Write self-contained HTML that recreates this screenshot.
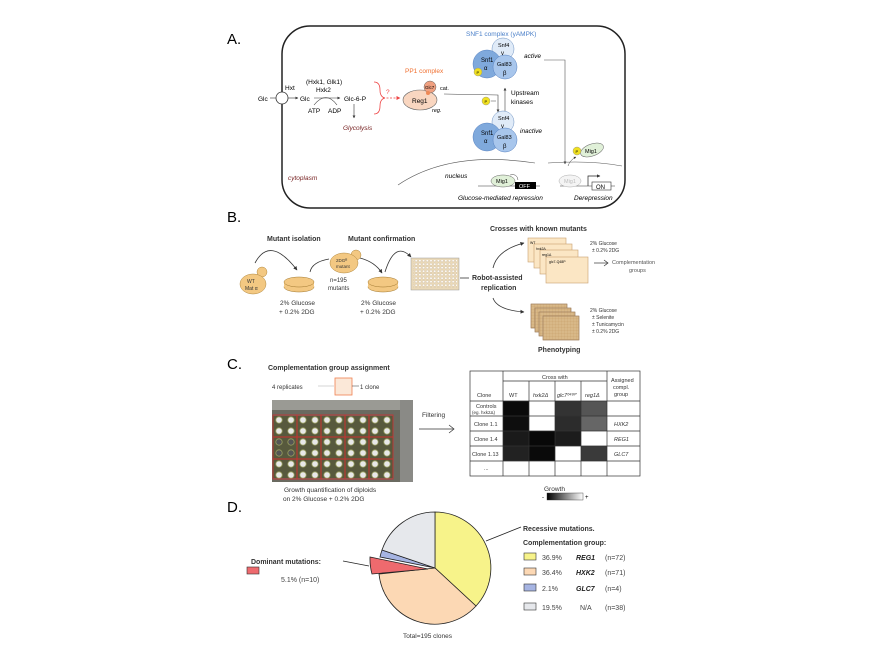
<!DOCTYPE html>
<html><head><meta charset="utf-8"><style>
html,body{margin:0;padding:0;background:#fff}
svg{display:block}
text{font-family:"Liberation Sans",Arial,sans-serif}
</style></head><body>
<svg width="890" height="664" viewBox="0 0 890 664" xmlns="http://www.w3.org/2000/svg">
<defs>
<marker id="ah" viewBox="0 0 10 10" refX="9" refY="5" markerWidth="5" markerHeight="5" orient="auto"><path d="M0,0L10,5L0,10z" fill="#333"/></marker>
<marker id="ahr" viewBox="0 0 10 10" refX="9" refY="5" markerWidth="5" markerHeight="5" orient="auto"><path d="M0,0L10,5L0,10z" fill="#e44"/></marker>
<linearGradient id="gr" x1="0" x2="1"><stop offset="0" stop-color="#000"/><stop offset="1" stop-color="#fff"/></linearGradient>
</defs>

<!-- PANEL A -->
<text x="227" y="44" font-size="15">A.</text>
<rect x="282" y="26" width="343" height="182" rx="28" fill="none" stroke="#222" stroke-width="1.5"/>
<text x="258" y="101" font-size="6.5">Glc</text>
<line x1="270" y1="98" x2="276" y2="98" stroke="#333" stroke-width=".6"/>
<circle cx="282" cy="98" r="6" fill="#fff" stroke="#333" stroke-width=".8"/>
<text x="285" y="90" font-size="6.5">Hxt</text>
<line x1="288" y1="98" x2="298" y2="98" stroke="#333" stroke-width=".6" marker-end="url(#ah)"/>
<text x="300" y="101" font-size="6.5">Glc</text>
<text x="306" y="84" font-size="6.5">(Hxk1, Glk1)</text>
<text x="316" y="92" font-size="6.5">Hxk2</text>
<line x1="314" y1="98" x2="340" y2="98" stroke="#333" stroke-width=".6" marker-end="url(#ah)"/>
<path d="M314,105 Q326,90 337,105" fill="none" stroke="#333" stroke-width=".6"/>
<text x="308" y="113" font-size="6.5">ATP</text>
<text x="328" y="113" font-size="6.5">ADP</text>
<text x="344" y="101" font-size="6.5">Glc-6-P</text>
<line x1="354" y1="104" x2="354" y2="118" stroke="#333" stroke-width=".6" marker-end="url(#ah)"/>
<text x="343" y="130" font-size="6.5" font-style="italic" fill="#722">Glycolysis</text>
<path d="M374,82 Q380,82 380,90 Q380,97 385,98 Q380,99 380,106 Q380,114 374,114" fill="none" stroke="#e44" stroke-width=".8"/>
<text x="386" y="94" font-size="6.5" fill="#e44">?</text>
<line x1="383" y1="98" x2="400" y2="98" stroke="#e44" stroke-width=".8" stroke-dasharray="2,1.5" marker-end="url(#ahr)"/>
<text x="405" y="73" font-size="6.5" fill="#f07030">PP1 complex</text>
<ellipse cx="420" cy="100" rx="17" ry="10" fill="#f9d6c0" stroke="#666" stroke-width=".6"/>
<text x="412" y="103" font-size="6.5">Reg1</text>
<circle cx="430" cy="87" r="6" fill="#f0a080" stroke="#666" stroke-width=".5"/>
<text x="425" y="89" font-size="4.5">Glc7</text>
<circle cx="428" cy="93" r="2" fill="#e85"/>
<text x="440" y="90" font-size="5.5">cat.</text>
<text x="432" y="112" font-size="5.5" font-style="italic">reg.</text>
<path d="M444,94 L498,95 L498,112" fill="none" stroke="#444" stroke-width=".6" marker-end="url(#ah)"/>
<line x1="505" y1="113" x2="505" y2="88" stroke="#444" stroke-width=".6" marker-end="url(#ah)"/>
<text x="466" y="36" font-size="6.5" fill="#4a7fc8">SNF1 complex (yAMPK)</text>
<!-- active -->
<circle cx="503" cy="49" r="11" fill="#e0ebf8" stroke="#6a8fc0" stroke-width=".5"/>
<text x="498" y="47" font-size="5.5">Snf4</text><text x="501" y="55" font-size="6">γ</text>
<circle cx="487" cy="64" r="14" fill="#7fa9dc" stroke="#5580c0" stroke-width=".5"/>
<text x="481" y="62" font-size="6">Snf1</text><text x="484" y="70" font-size="6">α</text>
<circle cx="505" cy="67" r="12" fill="#a8c6ec" stroke="#5580c0" stroke-width=".5"/>
<text x="497" y="66" font-size="5.5">Gal83</text><text x="503" y="75" font-size="6">β</text>
<circle cx="478" cy="72" r="4" fill="#f0e020" stroke="#888" stroke-width=".4"/><text x="476.5" y="74" font-size="4">P</text>
<text x="524" y="58" font-size="6.5" font-style="italic">active</text>
<path d="M544,60 L565,60 L565,164" fill="none" stroke="#555" stroke-width=".6" marker-end="url(#ah)"/>
<text x="511" y="95" font-size="6.5">Upstream</text>
<text x="511" y="104" font-size="6.5">kinases</text>
<circle cx="486" cy="101" r="4" fill="#f0e020" stroke="#888" stroke-width=".4"/><text x="484.5" y="103" font-size="4">P</text>
<line x1="491" y1="101" x2="496" y2="101" stroke="#444" stroke-width=".5"/>
<!-- inactive -->
<circle cx="503" cy="122" r="11" fill="#e0ebf8" stroke="#6a8fc0" stroke-width=".5"/>
<text x="498" y="120" font-size="5.5">Snf4</text><text x="501" y="128" font-size="6">γ</text>
<circle cx="487" cy="137" r="14" fill="#7fa9dc" stroke="#5580c0" stroke-width=".5"/>
<text x="481" y="135" font-size="6">Snf1</text><text x="484" y="143" font-size="6">α</text>
<circle cx="505" cy="140" r="12" fill="#a8c6ec" stroke="#5580c0" stroke-width=".5"/>
<text x="497" y="139" font-size="5.5">Gal83</text><text x="503" y="148" font-size="6">β</text>
<text x="520" y="133" font-size="6.5" font-style="italic">inactive</text>
<!-- Mig1 P -->
<ellipse cx="592" cy="150" rx="12" ry="6" fill="#e0f0d8" stroke="#666" stroke-width=".5" transform="rotate(-20 592 150)"/>
<text x="585" y="153" font-size="5.5">Mig1</text>
<circle cx="577" cy="151" r="4" fill="#f0e020" stroke="#888" stroke-width=".4"/><text x="575.5" y="153" font-size="4">P</text>
<path d="M568,166 Q570,160 576,157" fill="none" stroke="#444" stroke-width=".5" marker-end="url(#ah)"/>
<!-- nucleus -->
<path d="M398,185 Q450,150 535,163" fill="none" stroke="#555" stroke-width=".6"/>
<path d="M548,163 Q590,160 622,166" fill="none" stroke="#555" stroke-width=".6"/>
<text x="288" y="180" font-size="6.5" font-style="italic" fill="#722">cytoplasm</text>
<text x="445" y="178" font-size="6.5" font-style="italic">nucleus</text>
<line x1="478" y1="186" x2="540" y2="186" stroke="#333" stroke-width=".6"/>
<ellipse cx="503" cy="181" rx="12" ry="6" fill="#e0f0d8" stroke="#666" stroke-width=".5"/>
<text x="496" y="183" font-size="5.5">Mig1</text>
<path d="M510,175 Q517,173 518,180" fill="none" stroke="#444" stroke-width=".5"/>
<rect x="515" y="182" width="21" height="7" fill="#000"/>
<text x="519" y="188" font-size="5.5" fill="#fff">OFF</text>
<text x="458" y="200" font-size="6.5" font-style="italic">Glucose-mediated repression</text>
<line x1="560" y1="186" x2="615" y2="186" stroke="#333" stroke-width=".6"/>
<ellipse cx="570" cy="181" rx="11" ry="6" fill="#f4f4f4" stroke="#aaa" stroke-width=".5"/>
<text x="564" y="183" font-size="5.5" fill="#bbb">Mig1</text>
<path d="M588,186 L588,176 L600,176" fill="none" stroke="#222" stroke-width=".7" marker-end="url(#ah)"/>
<rect x="592" y="182" width="19" height="8" fill="#fff" stroke="#333" stroke-width=".6"/>
<text x="596" y="189" font-size="6">ON</text>
<text x="574" y="200" font-size="6.5" font-style="italic">Derepression</text>

<!-- PANEL B -->
<text x="227" y="222" font-size="15">B.</text>
<text x="267" y="241" font-size="7" font-weight="bold" fill="#333">Mutant isolation</text>
<text x="348" y="241" font-size="7" font-weight="bold" fill="#333">Mutant confirmation</text>
<path d="M255,263 Q270,235 297,270" fill="none" stroke="#333" stroke-width=".8" marker-end="url(#ah)"/>
<path d="M310,272 Q312,262 329,259" fill="none" stroke="#333" stroke-width=".8"/>
<path d="M360,258 Q375,262 382,273" fill="none" stroke="#333" stroke-width=".8" marker-end="url(#ah)"/>
<path d="M385,272 Q395,240 411,257" fill="none" stroke="#333" stroke-width=".8" marker-end="url(#ah)"/>
<circle cx="262" cy="272" r="5" fill="#f3c882" stroke="#b08840" stroke-width=".5"/>
<ellipse cx="253" cy="284" rx="13" ry="10" fill="#f3c882" stroke="#b08840" stroke-width=".5"/>
<text x="247" y="283" font-size="5" fill="#333">WT</text><text x="245" y="290" font-size="5" fill="#333">Mat α</text>
<circle cx="356" cy="255" r="5" fill="#f3c882" stroke="#b08840" stroke-width=".5"/>
<ellipse cx="344" cy="263" rx="14" ry="10" fill="#f3c882" stroke="#b08840" stroke-width=".5"/>
<text x="336" y="262" font-size="4.5" fill="#333">2DGᴿ</text><text x="336" y="268" font-size="4.5" fill="#333">mutant</text>
<text x="330" y="282" font-size="6" fill="#333">n=195</text><text x="328" y="290" font-size="6" fill="#333">mutants</text>
<g fill="#f3c882" stroke="#a07830" stroke-width=".5">
<ellipse cx="299" cy="287" rx="15" ry="5"/><rect x="284" y="282" width="30" height="5" stroke="none"/><ellipse cx="299" cy="282" rx="15" ry="5"/>
<ellipse cx="383" cy="287" rx="15" ry="5"/><rect x="368" y="282" width="30" height="5" stroke="none"/><ellipse cx="383" cy="282" rx="15" ry="5"/>
</g>
<text x="280" y="305" font-size="6.5" fill="#333">2% Glucose</text><text x="279" y="314" font-size="6.5" fill="#333">+ 0.2% 2DG</text>
<text x="361" y="305" font-size="6.5" fill="#333">2% Glucose</text><text x="360" y="314" font-size="6.5" fill="#333">+ 0.2% 2DG</text>
<rect x="411" y="258" width="48" height="32" fill="#ead9b8" stroke="#999" stroke-width=".5"/>
<g fill="#fff" opacity=".9">
<rect x="413" y="260" width="44" height="28" fill="url(#gp)"/>
</g>
<defs><pattern id="gp" width="3.7" height="3.5" patternUnits="userSpaceOnUse"><circle cx="1.8" cy="1.7" r="1.2" fill="#fff" stroke="#b8a080" stroke-width=".3"/></pattern>
<pattern id="gl" width="3" height="3" patternUnits="userSpaceOnUse"><path d="M3,0L0,0L0,3" fill="none" stroke="#c09860" stroke-width=".4"/></pattern></defs>
<line x1="460" y1="278" x2="469" y2="278" stroke="#333" stroke-width=".8"/>
<text x="472" y="280" font-size="7" font-weight="bold" fill="#333">Robot-assisted</text>
<text x="481" y="290" font-size="7" font-weight="bold" fill="#333">replication</text>
<text x="490" y="231" font-size="7" font-weight="bold" fill="#333">Crosses with known mutants</text>
<path d="M493,268 Q497,250 524,243" fill="none" stroke="#333" stroke-width=".8" marker-end="url(#ah)"/>
<path d="M493,298 Q497,310 524,312" fill="none" stroke="#333" stroke-width=".8" marker-end="url(#ah)"/>
<g stroke="#c8a070" stroke-width=".6" fill="#fbe6c4">
<rect x="528" y="238" width="38" height="24"/><rect x="534" y="244" width="38" height="24"/><rect x="540" y="250" width="38" height="24"/><rect x="546" y="257" width="42" height="26"/>
</g>
<text x="530" y="244" font-size="3.5">WT</text><text x="536" y="250" font-size="3.5">hxk2Δ</text><text x="542" y="256" font-size="3.5">reg1Δ</text><text x="549" y="263" font-size="3.5">glc7-Q48P</text>
<text x="590" y="245" font-size="5" fill="#333">2% Glucose</text><text x="592" y="252" font-size="5" fill="#333">± 0.2% 2DG</text>
<line x1="594" y1="263" x2="608" y2="263" stroke="#333" stroke-width=".7"/><path d="M604,260L608,263L604,266" fill="none" stroke="#333" stroke-width=".7"/>
<text x="612" y="264" font-size="5.5" fill="#555">Complementation</text><text x="629" y="272" font-size="5.5" fill="#555">groups</text>
<g stroke="#a08060" stroke-width=".5">
<rect x="531" y="304" width="36" height="24" fill="#d8b888"/><rect x="531" y="304" width="36" height="24" fill="url(#gl)"/>
<rect x="535" y="308" width="36" height="24" fill="#d8b888"/><rect x="535" y="308" width="36" height="24" fill="url(#gl)"/>
<rect x="539" y="312" width="36" height="24" fill="#d8b888"/><rect x="539" y="312" width="36" height="24" fill="url(#gl)"/>
<rect x="543" y="316" width="36" height="24" fill="#d8b888"/><rect x="543" y="316" width="36" height="24" fill="url(#gl)"/>
</g>
<text x="590" y="312" font-size="5" fill="#333">2% Glucose</text><text x="592" y="319" font-size="5" fill="#333">± Selenite</text><text x="592" y="326" font-size="5" fill="#333">± Tunicamycin</text><text x="592" y="333" font-size="5" fill="#333">± 0.2% 2DG</text>
<text x="538" y="352" font-size="7" font-weight="bold" fill="#333">Phenotyping</text>

<!-- PANEL C -->
<text x="227" y="369" font-size="15">C.</text>
<text x="268" y="370" font-size="7" font-weight="bold" fill="#333">Complementation group assignment</text>
<text x="272" y="389" font-size="6" fill="#333">4 replicates</text>
<line x1="318" y1="386" x2="334" y2="386" stroke="#aaa" stroke-width=".5"/>
<rect x="335" y="378" width="17" height="17" fill="#fbe8d8" stroke="#f08050" stroke-width=".8"/>
<line x1="352" y1="386" x2="359" y2="386" stroke="#333" stroke-width=".5"/>
<text x="360" y="389" font-size="6" fill="#333">1 clone</text>
<rect x="272" y="400" width="141" height="82" fill="#6a6a60"/>
<rect x="272" y="400" width="141" height="10" fill="#9a9a94"/>
<rect x="400" y="400" width="13" height="82" fill="#8a8a86"/>
<rect x="273" y="416" width="120" height="62" fill="#57593d"/>
<g fill="#e8e8e8" stroke="#9aa060" stroke-width=".8">
<circle cx="279" cy="420" r="3.2"/><circle cx="291" cy="420" r="3.2"/><circle cx="303" cy="420" r="3.2"/><circle cx="315" cy="420" r="3.2"/><circle cx="327" cy="420" r="3.2"/><circle cx="339" cy="420" r="3.2"/><circle cx="351" cy="420" r="3.2"/><circle cx="363" cy="420" r="3.2"/><circle cx="375" cy="420" r="3.2"/><circle cx="387" cy="420" r="3.2"/>
<circle cx="279" cy="431" r="3.2"/><circle cx="291" cy="431" r="3.2"/><circle cx="303" cy="431" r="3.2"/><circle cx="315" cy="431" r="3.2"/><circle cx="327" cy="431" r="3.2"/><circle cx="339" cy="431" r="3.2"/><circle cx="351" cy="431" r="3.2"/><circle cx="363" cy="431" r="3.2"/><circle cx="375" cy="431" r="3.2"/><circle cx="387" cy="431" r="3.2"/>
<circle cx="279" cy="442" r="3.2" fill="#555"/><circle cx="291" cy="442" r="3.2" fill="#555"/><circle cx="303" cy="442" r="3.2"/><circle cx="315" cy="442" r="3.2"/><circle cx="327" cy="442" r="3.2"/><circle cx="339" cy="442" r="3.2"/><circle cx="351" cy="442" r="3.2"/><circle cx="363" cy="442" r="3.2"/><circle cx="375" cy="442" r="3.2"/><circle cx="387" cy="442" r="3.2"/>
<circle cx="279" cy="453" r="3.2" fill="#555"/><circle cx="291" cy="453" r="3.2" fill="#555"/><circle cx="303" cy="453" r="3.2"/><circle cx="315" cy="453" r="3.2"/><circle cx="327" cy="453" r="3.2"/><circle cx="339" cy="453" r="3.2"/><circle cx="351" cy="453" r="3.2"/><circle cx="363" cy="453" r="3.2"/><circle cx="375" cy="453" r="3.2"/><circle cx="387" cy="453" r="3.2"/>
<circle cx="279" cy="464" r="3.2"/><circle cx="291" cy="464" r="3.2"/><circle cx="303" cy="464" r="3.2"/><circle cx="315" cy="464" r="3.2"/><circle cx="327" cy="464" r="3.2"/><circle cx="339" cy="464" r="3.2"/><circle cx="351" cy="464" r="3.2"/><circle cx="363" cy="464" r="3.2"/><circle cx="375" cy="464" r="3.2"/><circle cx="387" cy="464" r="3.2"/>
<circle cx="279" cy="475" r="3.2"/><circle cx="291" cy="475" r="3.2"/><circle cx="303" cy="475" r="3.2"/><circle cx="315" cy="475" r="3.2"/><circle cx="327" cy="475" r="3.2"/><circle cx="339" cy="475" r="3.2"/><circle cx="351" cy="475" r="3.2"/><circle cx="363" cy="475" r="3.2"/><circle cx="375" cy="475" r="3.2"/><circle cx="387" cy="475" r="3.2"/>
</g>
<g fill="none" stroke="#d03030" stroke-width=".8">
<rect x="273" y="415" width="24" height="22"/><rect x="297" y="415" width="24" height="22"/><rect x="321" y="415" width="24" height="22"/><rect x="345" y="415" width="24" height="22"/><rect x="369" y="415" width="24" height="22"/>
<rect x="273" y="437" width="24" height="22"/><rect x="297" y="437" width="24" height="22"/><rect x="321" y="437" width="24" height="22"/><rect x="345" y="437" width="24" height="22"/><rect x="369" y="437" width="24" height="22"/>
<rect x="273" y="459" width="24" height="20"/><rect x="297" y="459" width="24" height="20"/><rect x="321" y="459" width="24" height="20"/><rect x="345" y="459" width="24" height="20"/><rect x="369" y="459" width="24" height="20"/>
</g>
<text x="284" y="492" font-size="6.5" fill="#333">Growth quantification of diploids</text>
<text x="283" y="501" font-size="6.5" fill="#333">on 2% Glucose + 0.2% 2DG</text>
<text x="422" y="417" font-size="6.5" fill="#333">Filtering</text>
<line x1="419" y1="429" x2="454" y2="429" stroke="#333" stroke-width=".7"/><path d="M449,425L454,429L449,433" fill="none" stroke="#333" stroke-width=".7"/>
<!-- table -->
<rect x="503" y="401" width="26" height="15" fill="#0a0a0a"/><rect x="555" y="401" width="26" height="15" fill="#333"/><rect x="581" y="401" width="26" height="15" fill="#555"/>
<rect x="503" y="416" width="26" height="15" fill="#0e0e0e"/><rect x="555" y="416" width="26" height="15" fill="#2c2c2c"/><rect x="581" y="416" width="26" height="15" fill="#666"/>
<rect x="503" y="431" width="26" height="15" fill="#1a1a1a"/><rect x="529" y="431" width="26" height="15" fill="#080808"/><rect x="555" y="431" width="26" height="15" fill="#1c1c1c"/>
<rect x="503" y="446" width="26" height="15" fill="#222"/><rect x="529" y="446" width="26" height="15" fill="#0a0a0a"/><rect x="581" y="446" width="26" height="15" fill="#3a3a3a"/>
<g stroke="#333" stroke-width=".7" fill="none">
<rect x="470" y="371" width="170" height="105"/>
<line x1="503" y1="371" x2="503" y2="476"/><line x1="607" y1="371" x2="607" y2="476"/>
<line x1="529" y1="381" x2="529" y2="476"/><line x1="555" y1="381" x2="555" y2="476"/><line x1="581" y1="381" x2="581" y2="476"/>
<line x1="503" y1="381" x2="607" y2="381"/>
<line x1="470" y1="401" x2="640" y2="401"/><line x1="470" y1="416" x2="640" y2="416"/><line x1="470" y1="431" x2="640" y2="431"/><line x1="470" y1="446" x2="640" y2="446"/><line x1="470" y1="461" x2="640" y2="461"/>
</g>
<g font-size="5.5" fill="#333">
<text x="542" y="379">Cross with</text>
<text x="477" y="397">Clone</text><text x="509" y="397">WT</text><text x="533" y="397" font-style="italic">hxk2Δ</text><text x="557" y="397" font-style="italic">glc7ᴽ⁴⁸ᴾ</text><text x="585" y="397" font-style="italic">reg1Δ</text>
<text x="611" y="382">Assigned</text><text x="613" y="389">compl.</text><text x="614" y="396">group</text>
<text x="476" y="408">Controls</text><text x="472" y="414" font-size="4.5">(eg. hxk2Δ)</text>
<text x="474" y="426">Clone 1.1</text><text x="474" y="441">Clone 1.4</text><text x="472" y="456">Clone 1.13</text><text x="484" y="470">...</text>
<text x="614" y="426" font-style="italic">HXK2</text><text x="614" y="441" font-style="italic">REG1</text><text x="614" y="456" font-style="italic">GLC7</text>
</g>
<text x="544" y="491" font-size="6.5" fill="#333">Growth</text>
<rect x="547" y="493" width="36" height="7" fill="url(#gr)" stroke="#333" stroke-width=".4"/>
<text x="542" y="499" font-size="6">-</text><text x="585" y="499" font-size="6">+</text>

<!-- PANEL D -->
<text x="227" y="512" font-size="15">D.</text>
<g stroke="#222" stroke-width=".8">
<path d="M435,568 L435,512 A56,56 0 0 1 476,606 Z" fill="#f7f38a"/>
<path d="M435,568 L476,606 A56,56 0 0 1 379,574 Z" fill="#fcd8b4"/>
<path d="M428,569 L372,574 A56,56 0 0 1 370,557 Z" fill="#ee6a6e"/>
<path d="M435,568 L380,557 A56,56 0 0 1 382,550 Z" fill="#a6b4e2"/>
<path d="M435,568 L382,550 A56,56 0 0 1 435,512 Z" fill="#e6e8ec"/>
</g>
<line x1="486" y1="541" x2="521" y2="527" stroke="#222" stroke-width=".9"/>
<text x="523" y="531" font-size="7" font-weight="bold" fill="#333">Recessive mutations.</text>
<text x="523" y="545" font-size="7" font-weight="bold" fill="#333">Complementation group:</text>
<g stroke="#333" stroke-width=".6">
<rect x="524" y="553" width="12" height="7" fill="#f7f38a"/>
<rect x="524" y="568" width="12" height="7" fill="#fcd8b4"/>
<rect x="524" y="584" width="12" height="7" fill="#a6b4e2"/>
<rect x="524" y="603" width="12" height="7" fill="#e6e8ec"/>
<rect x="247" y="567" width="12" height="7" fill="#ee6a6e"/>
</g>
<g font-size="7" fill="#444">
<text x="542" y="560">36.9%</text><text x="576" y="560" font-weight="bold" font-style="italic" fill="#222">REG1</text><text x="605" y="560">(n=72)</text>
<text x="542" y="575">36.4%</text><text x="576" y="575" font-weight="bold" font-style="italic" fill="#222">HXK2</text><text x="605" y="575">(n=71)</text>
<text x="542" y="591">2.1%</text><text x="576" y="591" font-weight="bold" font-style="italic" fill="#222">GLC7</text><text x="605" y="591">(n=4)</text>
<text x="542" y="610">19.5%</text><text x="580" y="610">N/A</text><text x="605" y="610">(n=38)</text>
<text x="281" y="582">5.1%   (n=10)</text>
</g>
<text x="251" y="564" font-size="7" font-weight="bold" fill="#333">Dominant mutations:</text>
<line x1="343" y1="561" x2="369" y2="566" stroke="#222" stroke-width=".7"/>
<text x="403" y="638" font-size="6.5" fill="#333">Total=195 clones</text>
</svg>
</body></html>
